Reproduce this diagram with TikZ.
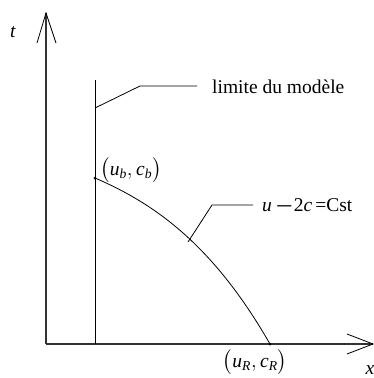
\documentclass[tikz,border=0pt]{standalone}
\usepackage{amsmath}
\usepackage{fontspec}
\setmainfont{Liberation Serif}
\begin{document}
\begin{tikzpicture}[x=1pt,y=-1pt,
  axis/.style={line width=1.1pt,draw=black!80},
  thin/.style={line width=0.8pt},
  lbl/.style={inner sep=0pt,font=\fontsize{19.5}{22}\selectfont},
  dot/.style={circle,fill=black,inner sep=0pt,minimum size=3pt}]
\useasboundingbox (0,0) rectangle (374,378);
% axes
\coordinate (O) at (46,344);
\coordinate (T) at (46,13);
\coordinate (X) at (373,344);
\coordinate (tw1) at (37,43);
\coordinate (tw2) at (56,43);
\coordinate (xw1) at (347,334);
\coordinate (xw2) at (347,354);
\draw[axis] (O) -- (T);
\draw[axis] (O) -- (X);
\draw[thin] (tw1) -- (T) -- (tw2);
\draw[thin] (xw1) -- (X) -- (xw2);
\node[lbl] (tl) at (13,32) {\textit{t}};
\node[lbl,anchor=base] (xl) at (370,374) {\textit{x}};
% model limit
\coordinate (L0) at (95,344);
\coordinate (L1) at (95,80);
\draw[thin] (L0) -- (L1);
\coordinate (la) at (95,108);
\coordinate (lb) at (140,86);
\coordinate (lc) at (197,86);
\draw[thin] (la) -- (lb) -- (lc);
\node[lbl,anchor=west] (lim) at (212,87) {limite du modèle};
% curve
\node[dot] (B) at (95,178) {};
\node[dot] (R) at (270,344) {};
\draw[thin] (B.center) .. controls (153,203) and (212,243) .. (R.center);
\node[lbl] (bl) at (131,170) {$\bigl(\textit{u}_{\textit{b}},\textit{c}_{\textit{b}}\bigr)$};
\node[lbl] (rl) at (255,362) {$\bigl(\textit{u}_{\textit{R}},\textit{c}_{\textit{R}}\bigr)$};
% characteristic label
\coordinate (ca) at (188,242);
\coordinate (cb) at (212,205);
\coordinate (cc) at (253,205);
\draw[thin] (ca) -- (cb) -- (cc);
\node[lbl,anchor=west] (cst) at (262,206) {\textit{u}\,$\boldsymbol{-}$2\textit{c}\,=Cst};
\end{tikzpicture}
\end{document}
